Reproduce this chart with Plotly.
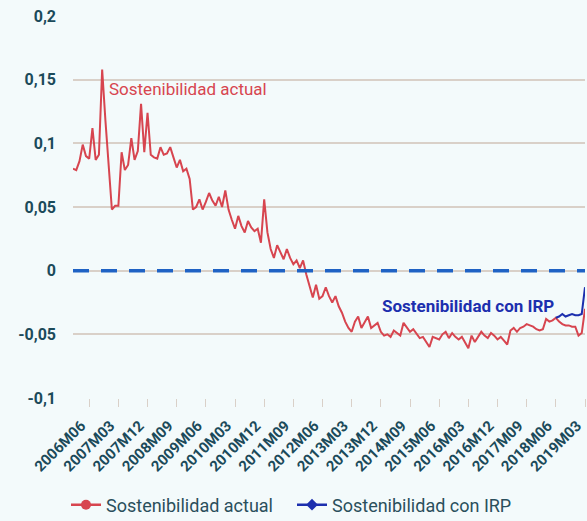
import plotly.graph_objects as go

# Monthly periods 2006M01 .. 2019M03
months = [f"{y}M{m:02d}" for y in range(2006, 2020) for m in range(1, 13)]
months = months[: months.index("2019M03") + 1]

# Current sustainability indicator (monthly)
sost_actual = [
    0.080, 0.079, 0.086, 0.099, 0.090, 0.088, 0.112, 0.087, 0.091, 0.158,
    0.118, 0.082, 0.048, 0.051, 0.051, 0.093, 0.079, 0.083, 0.104, 0.087,
    0.094, 0.131, 0.093, 0.124, 0.091, 0.089, 0.088, 0.097, 0.091, 0.092,
    0.097, 0.089, 0.081, 0.087, 0.078, 0.080, 0.072, 0.048, 0.050, 0.056,
    0.048, 0.054, 0.061, 0.055, 0.051, 0.058, 0.050, 0.063, 0.048, 0.040,
    0.033, 0.043, 0.035, 0.030, 0.039, 0.034, 0.031, 0.033, 0.022, 0.056,
    0.030, 0.017, 0.010, 0.020, 0.015, 0.009, 0.017, 0.010, 0.005, 0.008,
    0.002, 0.008, -0.003, -0.012, -0.021, -0.011, -0.022, -0.020, -0.013, -0.020,
    -0.025, -0.020, -0.028, -0.033, -0.040, -0.045, -0.048, -0.040, -0.036, -0.045,
    -0.040, -0.036, -0.045, -0.043, -0.041, -0.048, -0.051, -0.050, -0.052, -0.047,
    -0.049, -0.051, -0.041, -0.045, -0.048, -0.046, -0.050, -0.053, -0.052, -0.056,
    -0.060, -0.052, -0.053, -0.054, -0.050, -0.048, -0.053, -0.049, -0.052, -0.054,
    -0.052, -0.057, -0.061, -0.051, -0.056, -0.052, -0.048, -0.051, -0.053, -0.049,
    -0.051, -0.054, -0.052, -0.055, -0.058, -0.047, -0.045, -0.048, -0.045, -0.044,
    -0.042, -0.043, -0.044, -0.046, -0.047, -0.046, -0.038, -0.040, -0.039, -0.037,
    -0.040, -0.042, -0.043, -0.043, -0.044, -0.044, -0.051, -0.049, -0.030,
]

# Sustainability with IRP, from 2018M06
irp_months = months[months.index("2018M06"):]
sost_irp = [-0.037, -0.036, -0.034, -0.036, -0.035, -0.034, -0.035, -0.035, -0.034, -0.013]

# Axis ticks
x_ticks = months[5::9]
y_ticks = [-0.1, -0.05, 0, 0.05, 0.1, 0.15, 0.2]
y_tick_text = ["-0,1", "-0,05", "0", "0,05", "0,1", "0,15", "0,2"]

RED = "#d7454f"
BLUE = "#1c2fae"
TEAL = "#1b4a5a"
GRID = "#d9d0c8"
BG = "#f3fafb"
LEGEND_FONT = dict(family="Roboto", size=18, color="#2a4f5c")

fig = go.Figure()

fig.add_trace(go.Scatter(
    x=months, y=sost_actual, mode="lines",
    line=dict(color=RED, width=2), showlegend=False, hoverinfo="x+y",
))
fig.add_trace(go.Scatter(
    x=irp_months, y=sost_irp, mode="lines",
    line=dict(color=BLUE, width=2), showlegend=False, hoverinfo="x+y",
))

# Legend entries (line + marker symbol), each in its own legend box
fig.add_trace(go.Scatter(
    x=[None], y=[None], mode="lines+markers", name="Sostenibilidad actual",
    line=dict(color=RED, width=2.5), marker=dict(symbol="circle", size=10, color=RED),
    legend="legend",
))
fig.add_trace(go.Scatter(
    x=[None], y=[None], mode="lines+markers", name="Sostenibilidad con IRP",
    line=dict(color=BLUE, width=2.5), marker=dict(symbol="diamond", size=9, color=BLUE),
    legend="legend2",
))

# Dashed zero reference
fig.add_hline(y=0, line=dict(color="#1f62c4", width=3.5, dash="16px,12px"), layer="above")

fig.add_annotation(
    xref="paper", yref="y", x=0.066, y=0.143, xanchor="left", yanchor="middle",
    text="Sostenibilidad actual", showarrow=False,
    font=dict(family="Roboto", size=17, color=RED),
)
fig.add_annotation(
    xref="paper", yref="y", x=0.599, y=-0.0275, xanchor="left", yanchor="middle",
    text="<b>Sostenibilidad con IRP</b>", showarrow=False,
    font=dict(family="Roboto", size=17, color=BLUE),
)

legend_common = dict(
    orientation="h", xref="container", yref="container",
    yanchor="middle", xanchor="left", y=16 / 521,
    font=LEGEND_FONT, bgcolor="rgba(0,0,0,0)", borderwidth=0,
)

fig.update_layout(
    width=587, height=521,
    margin=dict(l=73, r=2, t=16, b=123, autoexpand=False),
    paper_bgcolor=BG, plot_bgcolor=BG,
    font=dict(family="Roboto", color=TEAL),
    legend=dict(x=66 / 587, **legend_common),
    legend2=dict(x=292 / 587, **legend_common),
    hovermode="closest",
)

fig.update_xaxes(
    type="category", range=[0, len(months) - 1], automargin=False,
    tickmode="array", tickvals=x_ticks, ticktext=x_ticks,
    tickangle=-45, tickfont=dict(family="Roboto", size=15, color=TEAL, weight="bold"),
    ticks="outside", ticklen=8, tickcolor=GRID, tickwidth=1,
    ticklabelshift=-8, ticklabelstandoff=4,
    showgrid=False, zeroline=False, showline=False,
)
fig.update_yaxes(
    range=[-0.1, 0.2], automargin=False,
    tickmode="array", tickvals=y_ticks, ticktext=y_tick_text,
    tickfont=dict(family="Roboto", size=16, color=TEAL, weight="bold"),
    showgrid=True, gridcolor=GRID, gridwidth=1.5,
    zeroline=False, showline=False, ticklabelstandoff=16,
)

fig.write_html("out.html")
